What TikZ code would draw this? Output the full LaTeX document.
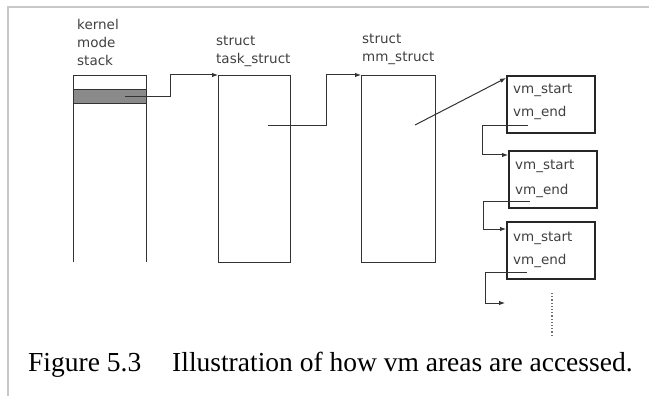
\documentclass[tikz,border=0pt]{standalone}
\usepackage{fontspec}
\setmainfont{Liberation Serif}
\newfontfamily\lblfont{DejaVu Sans}
\usetikzlibrary{arrows.meta,calc}
\definecolor{ln}{HTML}{333333}
\definecolor{tx}{HTML}{404040}
\definecolor{frame}{HTML}{C8C8C8}
\definecolor{slot}{HTML}{8A8A8A}
\tikzset{
  box/.style={draw=ln, line width=0.9pt, minimum width=#1, inner sep=0pt, anchor=north west},
  vmbox/.style={draw=black!85, line width=1.8pt, minimum width=88pt, minimum height=57pt, inner sep=0pt, anchor=north west},
  lbl/.style={font=\lblfont\fontsize{13.5}{16}\selectfont, text=tx, anchor=base west, inner sep=0pt},
  arr/.style={draw=ln, line width=1pt, -{Latex[length=6pt,width=4.5pt]}},
  link/.style={draw=ln, line width=1pt},
}
\begin{document}
\begin{tikzpicture}[x=1pt,y=-1pt]
\useasboundingbox (0,0) rectangle (649,396);
% frame
\draw[frame, line width=1.5pt] (8,396) -- (8,7) -- (649,7);

% kernel mode stack (open bottom)
\node[draw=none, minimum width=73pt, minimum height=187pt, inner sep=0pt, anchor=north west] (kstack) at (73,75) {};
\draw[ln, line width=0.9pt] (kstack.south west) -- (kstack.north west) -- (kstack.north east) -- (kstack.south east);
\node[draw=ln, fill=slot, line width=1pt, minimum width=73pt, minimum height=14pt, inner sep=0pt, anchor=north west] (kslot) at (73,89) {};
\node[lbl] (k1) at (77,30) {kernel};
\node[lbl] (k2) at (77,48) {mode};
\node[lbl] (k3) at (77,66) {stack};

% task_struct
\node[box=72pt, minimum height=187pt] (task) at (218,75) {};
\node[lbl] (t1) at (216,46) {struct};
\node[lbl] (t2) at (216,64) {task\_struct};

% mm_struct
\node[box=74pt, minimum height=187pt] (mm) at (361,75) {};
\node[lbl] (m1) at (362,44) {struct};
\node[lbl] (m2) at (362,62) {mm\_struct};

% vm areas
\node[vmbox] (vm1) at (506,75) {};
\node[vmbox] (vm2) at (508,150) {};
\node[vmbox] (vm3) at (506,221) {};
\node[lbl] (v1s) at (513,94) {vm\_start};
\node[lbl] (v1e) at (513,117) {vm\_end};
\node[lbl] (v2s) at (515,170) {vm\_start};
\node[lbl] (v2e) at (515,194) {vm\_end};
\node[lbl] (v3s) at (513,241) {vm\_start};
\node[lbl] (v3e) at (513,264) {vm\_end};

% connectors
\coordinate (ks) at (125,97);
\draw[arr] (ks) -- (170,97) |- (task.north west);
\coordinate (ts) at (268,126);
\draw[arr] (ts) -- (326,126) |- (mm.north west);
\coordinate (ms) at (415,125);
\draw[arr] (ms) -- ($(vm1.north west)+(0,3)$);
\coordinate (l1) at (528,126);
\draw[arr] (l1) -- (482,126) |- ($(vm2.north west)+(0,5)$);
\coordinate (l2) at (530,201);
\draw[arr] (l2) -- (483,201) |- ($(vm3.north west)+(0,8)$);
\coordinate (l3) at (527,272);
\coordinate (l3e) at (505,303);
\draw[arr] (l3) -- (485,272) |- (l3e);
\coordinate (d1) at (552,293);
\coordinate (d2) at (552,335);
\draw[ln!70, line width=1.2pt, dotted] (d1) -- (d2);

% caption
\node[anchor=base west, inner sep=0pt, font=\fontsize{27.5}{30}\selectfont] (cap1) at (28,371) {Figure 5.3};
\node[anchor=base west, inner sep=0pt, font=\fontsize{27.5}{30}\selectfont] (cap2) at (172,371) {Illustration of how vm areas are accessed.};
\end{tikzpicture}
\end{document}
